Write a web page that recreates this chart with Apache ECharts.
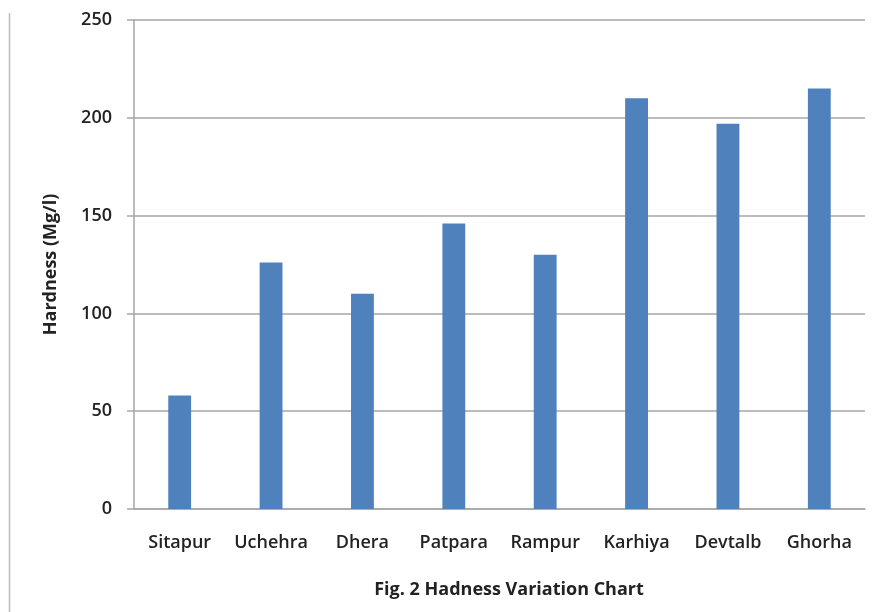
<!DOCTYPE html>
<html>
<head>
<meta charset="utf-8">
<script src="https://cdn.jsdelivr.net/npm/echarts@6/dist/echarts.min.js"></script>
<style>html,body{margin:0;padding:0;background:#fff}#c{width:890px;height:612px}</style>
</head>
<body>
<div id="c"></div>
<script>
var categories = ['Sitapur', 'Uchehra', 'Dhera', 'Patpara', 'Rampur', 'Karhiya', 'Devtalb', 'Ghorha'];
var hardness = [58, 126, 110, 146, 130, 210, 197, 215];
var yTicks = [0, 50, 100, 150, 200, 250];
var yAxisTitle = 'Hardness (Mg/l)';
var chartTitle = 'Fig. 2 Hadness Variation Chart';

var font = '"Open Sans", Lato, sans-serif';
var chart = echarts.init(document.getElementById('c'), null, {renderer: 'canvas'});
chart.setOption({
  animation: false,
  backgroundColor: '#fff',
  title: {
    text: chartTitle,
    left: 504, top: 576, textAlign: 'center',
    textStyle: {fontFamily: font, fontSize: 18, fontWeight: 'bold', color: '#222'}
  },
  grid: {left: 134, right: 25, top: 20, bottom: 103},
  graphic: [{
    type: 'line', shape: {x1: 9.5, y1: 13, x2: 9.5, y2: 612},
    style: {stroke: '#bbbbbb', lineWidth: 1.5}
  }],
  xAxis: {
    type: 'category', data: categories,
    axisLine: {show: true, lineStyle: {color: '#a6a6a6', width: 1.5}},
    axisTick: {show: false},
    axisLabel: {fontFamily: font, fontSize: 18, fontWeight: 600, color: '#222', margin: 25, interval: 0}
  },
  yAxis: {
    type: 'value', min: yTicks[0], max: yTicks[yTicks.length - 1], interval: 50,
    name: yAxisTitle, nameLocation: 'middle', nameGap: 74, nameRotate: 90,
    nameTextStyle: {fontFamily: font, fontSize: 18, fontWeight: 'bold', color: '#222'},
    axisLine: {show: true, lineStyle: {color: '#a6a6a6', width: 1.5}},
    axisTick: {show: true, length: 7, lineStyle: {color: '#a6a6a6', width: 1.5}},
    splitLine: {show: true, lineStyle: {color: '#a6a6a6', width: 1.5}},
    axisLabel: {fontFamily: font, fontSize: 18, fontWeight: 600, color: '#222', margin: 22}
  },
  series: [{
    type: 'bar', data: hardness, barWidth: '25%',
    itemStyle: {color: '#4f81bd'}
  }]
});
</script>
</body>
</html>
